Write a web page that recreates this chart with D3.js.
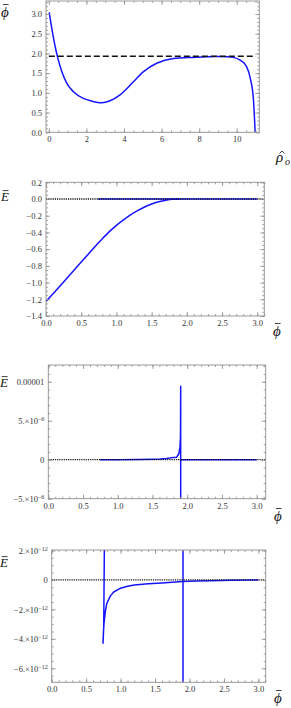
<!DOCTYPE html>
<html><head><meta charset="utf-8">
<script src="https://cdn.jsdelivr.net/npm/d3@7"></script>
<style>body{margin:0;background:#fff}svg{display:block}</style>
</head><body>
<script>
// ---------- data ----------
// Panel 1: phi-bar vs rho-hat_o
const p1Rho = [0.02,0.16,0.34,0.46,0.69,0.96,1.31,1.84,2.3,2.82,3.26,3.79,4.5,5.04,5.74,6.63,7.7,8.94,9.5,9.82,10.18,10.53,10.74,10.89,10.98];
const p1Phi = [3.04,2.63,2.17,1.92,1.54,1.24,1.03,0.86,0.79,0.75,0.80,0.95,1.28,1.54,1.75,1.87,1.90,1.92,1.915,1.90,1.83,1.66,1.33,0.82,0.0];
const p1DashLevel = 1.93, p1DashFrom = 0.0, p1DashTo = 11.03;
const p1XTicks = [0,2,4,6,8,10];
const p1YTicks = [0,0.5,1,1.5,2,2.5,3];

// Panel 2: E-bar vs phi-bar
const p2Phi = [0,0.1,0.2,0.3,0.4,0.5,0.6,0.7,0.8,0.9,1.0,1.1,1.2,1.3,1.4,1.5,1.6,1.7,1.8,1.9];
const p2E   = [-1.225,-1.135,-1.04,-0.945,-0.85,-0.755,-0.66,-0.565,-0.475,-0.39,-0.315,-0.25,-0.19,-0.14,-0.095,-0.06,-0.033,-0.014,-0.003,0];
const p2FlatPhi = [0.74, 3.0];
const p2FlatE = [0, 0];
const p2XTicks = [0,0.5,1,1.5,2,2.5,3];
const p2YTicks = [-1.4,-1.2,-1,-0.8,-0.6,-0.4,-0.2,0,0.2];

// Panel 3: E-bar (1e-6 scale)
const p3Phi = [0.744,1.0,1.3,1.5,1.61,1.7,1.75,1.8,1.848,1.88,1.896,1.903,1.906,1.906];
const p3E   = [0,0.01e-6,0.03e-6,0.06e-6,0.09e-6,0.16e-6,0.22e-6,0.3e-6,0.33e-6,0.77e-6,1.6e-6,2.9e-6,9.43e-6,-6e-6];
const p3TailPhi = [1.906, 3.0];
const p3TailE = [0, 0];
const p3XTicks = [0,0.5,1,1.5,2,2.5,3];
const p3YTicks = [-5e-6, 0, 5e-6, 1e-5];
const p3YLabels = [["−5.×10","−6"],["0"],["5.×10","−6"],["0.00001"]];

// Panel 4: E-bar (1e-12 scale)
const p4Phi = [0.765,0.755,0.745,0.75,0.76,0.78,0.8,0.85,0.9,1.0,1.1,1.2,1.4,1.6,1.8,1.9,2.1,2.3,2.6,2.9,3.0];
const p4E   = [2.5e-12,-3.2e-12,-4.3e-12,-3.6e-12,-2.9e-12,-2.1e-12,-1.6e-12,-1.1e-12,-0.82e-12,-0.56e-12,-0.43e-12,-0.34e-12,-0.26e-12,-0.21e-12,-0.14e-12,-0.11e-12,-0.08e-12,-0.05e-12,-0.02e-12,-0.005e-12,0];
const p4VertPhi = [1.906, 1.906];
const p4VertE = [2.5e-12, -7.5e-12];
const p4XTicks = [0,0.5,1,1.5,2,2.5,3];
const p4YTicks = [-6e-12,-4e-12,-2e-12,0,2e-12];
const p4YLabels = [["−6.×10","−12"],["−4.×10","−12"],["−2.×10","−12"],["0"],["2.×10","−12"]];

// ---------- drawing ----------
const W = 291, H = 708;
const SERIF = "'Liberation Serif','Times New Roman','DejaVu Serif',serif";
const svg = d3.select("body").append("svg").attr("width", W).attr("height", H)
  .style("font-family", SERIF);
svg.append("rect").attr("width", W).attr("height", H).attr("fill", "#fff");

const FRAME = "#8f8f8f", TXT = "#333", BLUE = "#1414ff";

function panel(c, id) {
  const x = d3.scaleLinear().domain(c.xd).range([c.l, c.r]);
  const y = d3.scaleLinear().domain(c.yd).range([c.b, c.t]);
  const g = svg.append("g");
  svg.append("clipPath").attr("id", "clip" + id).append("rect")
    .attr("x", c.l).attr("y", c.t).attr("width", c.r - c.l).attr("height", c.b - c.t);
  const pg = g.append("g").attr("clip-path", `url(#clip${id})`);

  function axis(gen, sc, vals, size, fmt, tr) {
    const a = gen(sc).tickValues(vals).tickSizeInner(size).tickSizeOuter(0).tickPadding(4);
    a.tickFormat(fmt || "");
    const ag = g.append("g").attr("transform", tr).call(a);
    ag.select(".domain").remove();
    ag.selectAll("line").attr("stroke", FRAME).attr("stroke-width", 0.8);
    ag.selectAll("text").attr("fill", TXT).style("font-size", "8.5px").style("font-family", SERIF);
    return ag;
  }
  const xMinorAll = d3.range(Math.ceil(c.xd[0] / c.xm) * c.xm, c.xd[1] + c.xm * 1e-6, c.xm);
  const yMinorAll = d3.range(Math.ceil(c.yd[0] / c.ym - 1e-6), Math.floor(c.yd[1] / c.ym + 1e-6) + 1).map(k => k * c.ym);

  axis(d3.axisBottom, x, xMinorAll, -2, null, `translate(0,${c.b})`);
  axis(d3.axisTop, x, xMinorAll, -2, null, `translate(0,${c.t})`);
  axis(d3.axisLeft, y, yMinorAll, -2, null, `translate(${c.l},0)`);
  axis(d3.axisRight, y, yMinorAll, -2, null, `translate(${c.r},0)`);
  axis(d3.axisBottom, x, c.xt, -4, c.xf, `translate(0,${c.b})`);
  axis(d3.axisTop, x, c.xt, -4, null, `translate(0,${c.t})`);
  const yl = axis(d3.axisLeft, y, c.yt, -4, c.yl ? (d => "") : c.yf, `translate(${c.l},0)`);
  axis(d3.axisRight, y, c.yt, -4, null, `translate(${c.r},0)`);
  if (c.yl) {
    yl.selectAll("text").each(function (d, i) {
      const t = d3.select(this), lab = c.yl[i];
      t.text(null);
      t.append("tspan").text(lab[0]);
      if (lab[1]) t.append("tspan").attr("dy", "-0.45em").style("font-size", "6px").text(lab[1]);
    });
  }
  g.append("rect").attr("x", c.l).attr("y", c.t).attr("width", c.r - c.l).attr("height", c.b - c.t)
    .attr("fill", "none").attr("stroke", FRAME).attr("stroke-width", 0.9);
  return { x, y, g: pg, outer: g };
}

function addLine(P, xs, ys, opts) {
  const line = d3.line().x(d => P.x(d[0])).y(d => P.y(d[1]));
  if (opts.curve) line.curve(opts.curve);
  P.g.append("path").datum(d3.zip(xs, ys)).attr("d", line)
    .attr("fill", "none").attr("stroke", opts.color).attr("stroke-width", opts.w)
    .attr("stroke-dasharray", opts.dash || null).attr("stroke-linejoin", "round");
}

function phiLabel(x, yBase, size) {
  const t = svg.append("text").attr("x", x).attr("y", yBase).attr("font-style", "italic")
    .attr("font-size", size + "px").attr("fill", "#111").text("ϕ");
  const bb = t.node().getBBox();
  svg.append("line").attr("x1", bb.x + bb.width * 0.25).attr("x2", bb.x + bb.width * 0.95)
    .attr("y1", bb.y + 0.5).attr("y2", bb.y + 0.5).attr("stroke", "#111").attr("stroke-width", 0.8);
}
function eLabel(x, yBase, size) {
  const t = svg.append("text").attr("x", x).attr("y", yBase).attr("font-style", "italic")
    .attr("font-size", size + "px").attr("fill", "#111").text("E");
  const bb = t.node().getBBox();
  svg.append("line").attr("x1", bb.x + bb.width * 0.3).attr("x2", bb.x + bb.width * 0.95)
    .attr("y1", yBase - size * 0.8).attr("y2", yBase - size * 0.8).attr("stroke", "#111").attr("stroke-width", 0.8);
}

// Panel 1
const P1 = panel({ l: 46, r: 259.3, t: 1, b: 132.3, xd: [-0.15, 11.2], yd: [0, 3.33],
  xt: p1XTicks, yt: p1YTicks, xm: 0.5, ym: 0.1, xf: d => d, yf: d3.format(".1f") }, 1);
addLine(P1, p1Rho, p1Phi, { color: BLUE, w: 1.5, curve: d3.curveMonotoneX });
addLine(P1, [p1DashFrom, p1DashTo], [p1DashLevel, p1DashLevel], { color: "#111", w: 1.4, dash: "6,3" });
phiLabel(1, 17, 15);
// rho-hat_o label (hat drawn as a small stroke)
svg.append("text").attr("x", 276).attr("y", 162).attr("font-style", "italic").attr("font-size", "15px").attr("fill", "#111").text("ρ");
svg.append("path").attr("d", "M279.5,153.5 L282,151 L284.5,153.5").attr("fill", "none").attr("stroke", "#111").attr("stroke-width", 0.8);
svg.append("text").attr("x", 285).attr("y", 165).attr("font-style", "italic").attr("font-size", "10px").attr("fill", "#111").text("o");

// Panel 2
const P2 = panel({ l: 46, r: 264.3, t: 182.3, b: 316, xd: [0, 3.1], yd: [-1.4, 0.2],
  xt: p2XTicks, yt: p2YTicks, xm: 0.1, ym: 0.05, xf: d3.format(".1f"), yf: d3.format(".1f") }, 2);
addLine(P2, p2Phi, p2E, { color: BLUE, w: 1.5, curve: d3.curveMonotoneX });
addLine(P2, p2FlatPhi, p2FlatE, { color: BLUE, w: 1.5 });
addLine(P2, [0, 3.1], [0, 0], { color: "#111", w: 1.3, dash: "1.2,1" });
eLabel(1, 201, 13);
phiLabel(273, 336, 15);

// Panel 3
const P3 = panel({ l: 48.3, r: 265.7, t: 365, b: 498.7, xd: [0, 3.13], yd: [-5e-6, 1.215e-5],
  xt: p3XTicks, yt: p3YTicks, xm: 0.1, ym: 1e-6, xf: d3.format(".1f"), yl: p3YLabels }, 3);
addLine(P3, p3Phi, p3E, { color: BLUE, w: 1.5 });
addLine(P3, p3TailPhi, p3TailE, { color: BLUE, w: 1.5 });
addLine(P3, [0, 3.13], [0, 0], { color: "#111", w: 1.3, dash: "1.2,1" });
eLabel(0, 387, 13);
phiLabel(274, 521, 15);

// Panel 4
const P4 = panel({ l: 51.7, r: 265.7, t: 550, b: 682.3, xd: [0, 3.106], yd: [-6.95e-12, 2.03e-12],
  xt: p4XTicks, yt: p4YTicks, xm: 0.1, ym: 0.5e-12, xf: d3.format(".1f"), yl: p4YLabels }, 4);
addLine(P4, p4Phi, p4E, { color: BLUE, w: 1.5 });
addLine(P4, p4VertPhi, p4VertE, { color: BLUE, w: 1.5 });
addLine(P4, [0, 3.106], [0, 0], { color: "#111", w: 1.3, dash: "1.2,1" });
eLabel(0, 567, 13);
phiLabel(274, 703, 15);
</script>
</body></html>
